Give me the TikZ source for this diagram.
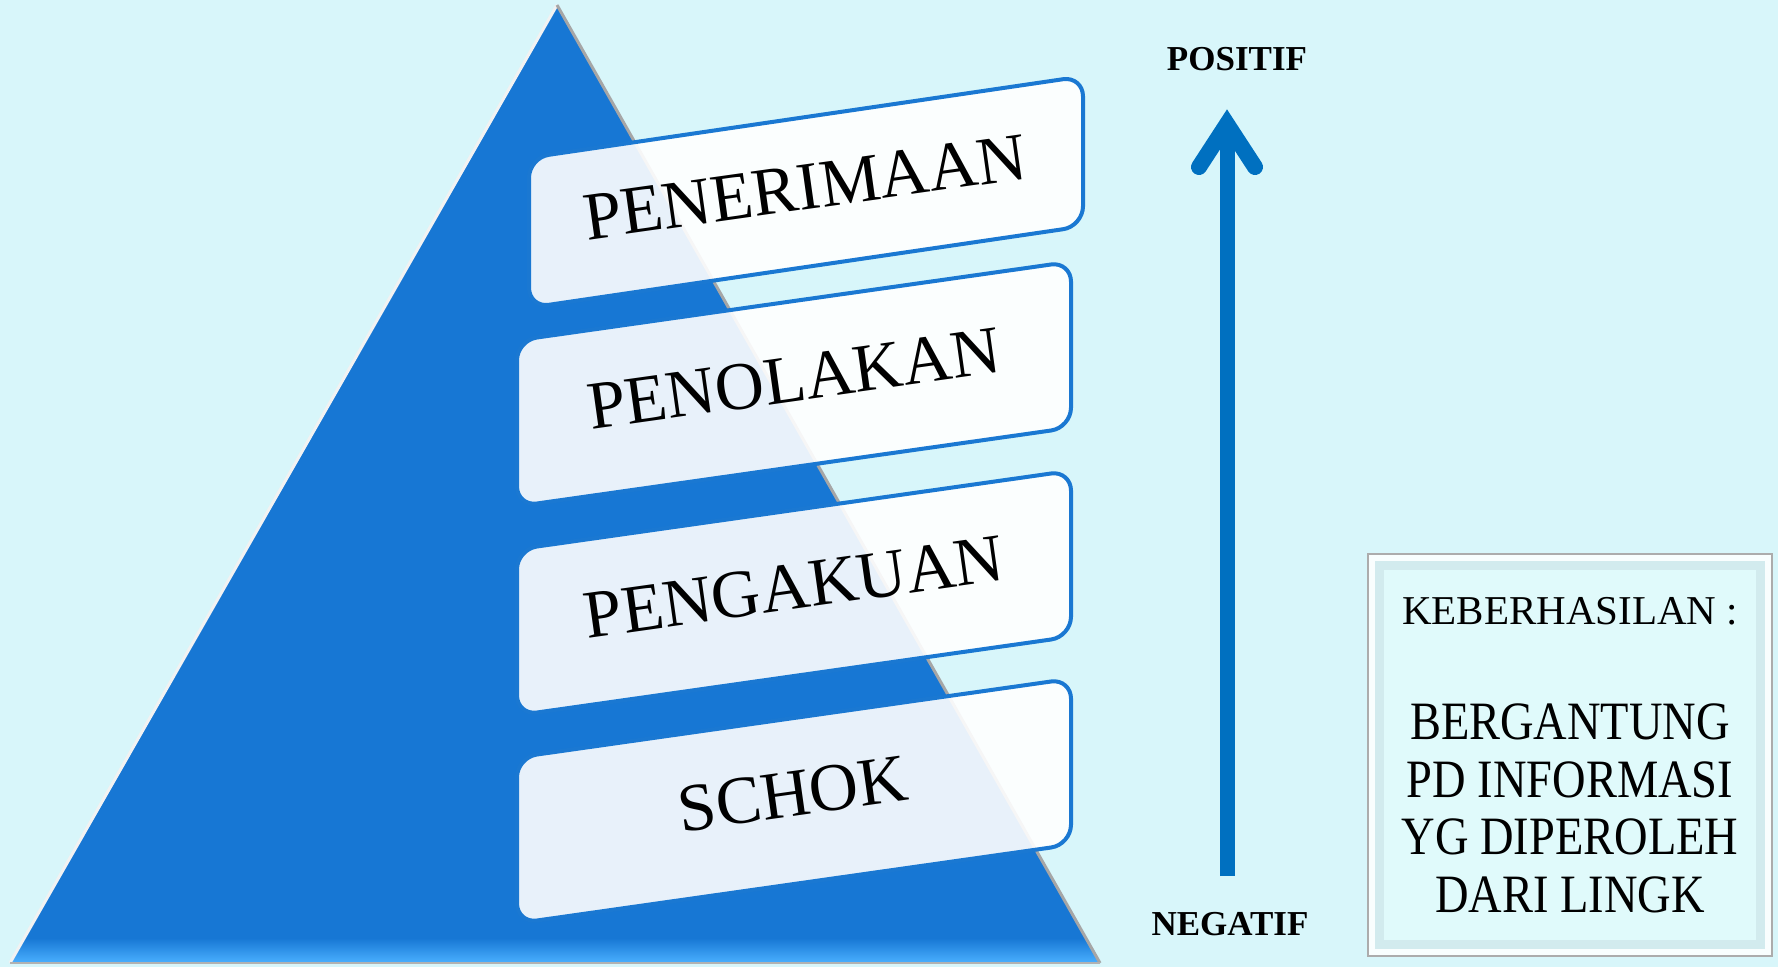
\documentclass[tikz,border=0pt]{standalone}
\usepackage{fontspec}
\usepackage{graphicx}
\setmainfont{Liberation Serif}
\usetikzlibrary{calc}

\definecolor{bgcyan}{HTML}{D8F6FA}
\definecolor{triblue}{HTML}{1777D4}
\definecolor{triglow}{HTML}{4AB0FF}
\definecolor{lineblue}{HTML}{1A78D2}
\definecolor{arrblue}{HTML}{0070C0}
\definecolor{panel}{HTML}{E0FAFB}
\definecolor{bevel}{HTML}{D2EBEE}

\newcommand{\narrowcaps}[1]{\scalebox{0.86}[1]{#1}}

\tikzset{
    banner/.style={draw=lineblue, line width=4pt, fill=white, fill opacity=0.9,
        rounded corners=20pt, minimum width=554pt, yslant=0.142},
    bantext/.style={font=\fontsize{68}{70}\selectfont, rotate=8, inner sep=0pt},
    poslabel/.style={font=\bfseries\fontsize{35}{40}\selectfont, inner sep=0pt},
    infobox/.style={draw=gray!65, line width=2pt, fill=white!80!panel,
        minimum width=404pt, minimum height=402pt, inner sep=0pt, align=center,
        font=\fontsize{54}{57.5}\selectfont,
        path picture={
            \fill[bevel] ([xshift=7pt,yshift=-7pt]path picture bounding box.north west)
                rectangle ([xshift=-7pt,yshift=7pt]path picture bounding box.south east);
            \fill[panel] ([xshift=16pt,yshift=-16pt]path picture bounding box.north west)
                rectangle ([xshift=-16pt,yshift=16pt]path picture bounding box.south east);
        }},
}

\begin{document}
\begin{tikzpicture}[x=1pt, y=-1pt]
        \useasboundingbox (0,0) rectangle (1778,967);
        \fill[bgcyan] (0,0) rectangle (1778,967);

        % pyramid
        \coordinate (tl) at (10,963);
        \coordinate (top) at (557,5);
        \coordinate (tr) at (1100,963);
        \fill[triblue] (tl) -- (top) -- (tr) -- cycle;
        \begin{scope}
            \clip (tl) -- (top) -- (tr) -- cycle;
            \shade[top color=triblue, bottom color=triglow] (0,938) rectangle (1778,963);
        \end{scope}
        \draw[white!90!gray, line width=3pt] (tl) -- (top);
        \draw[gray!70, line width=3pt] (top) -- (tr);
        \draw[gray!60, line width=2pt] (tl) -- (tr);

        % stages
        \node (penerimaan) [banner, minimum height=150pt, yslant=0.005] at (806,192) {};
        \node (penolakan) [banner, minimum height=166pt] at (794,384) {};
        \node (pengakuan) [banner, minimum height=166pt] at (794,593) {};
        \node (schok) [banner, minimum height=166pt] at (794,801) {};

        \node (tpenerimaan) [bantext] at (805,187) {PENERIMAAN};
        \node (tpenolakan) [bantext] at (794,379) {PENOLAKAN};
        \node (tpengakuan) [bantext] at (794,587) {PENGAKUAN};
        \node (tschok) [bantext] at (793,794) {SCHOK};

        % scale
        \node (pos) [poslabel] at (1237,59) {POSITIF};
        \node (neg) [poslabel] at (1230,924) {NEGATIF};
        \coordinate (ashaft) at (1227,876);
        \coordinate (ahead) at (1227,124);
        \draw[arrblue, line width=15pt] (ashaft) -- (ahead);
        \draw[arrblue, line width=16pt, line cap=round]
            ($(ahead)+(-28,43)$) -- (ahead) -- ($(ahead)+(28,43)$);

        \node (info) [infobox] at (1570,755) {%
            {\fontsize{41}{57.5}\selectfont KEBERHASILAN :}\\[57.5pt]
            \narrowcaps{BERGANTUNG}\\
            \narrowcaps{PD INFORMASI}\\
            \narrowcaps{YG DIPEROLEH}\\
            \narrowcaps{DARI LINGK}};
    \end{tikzpicture}
\end{document}
